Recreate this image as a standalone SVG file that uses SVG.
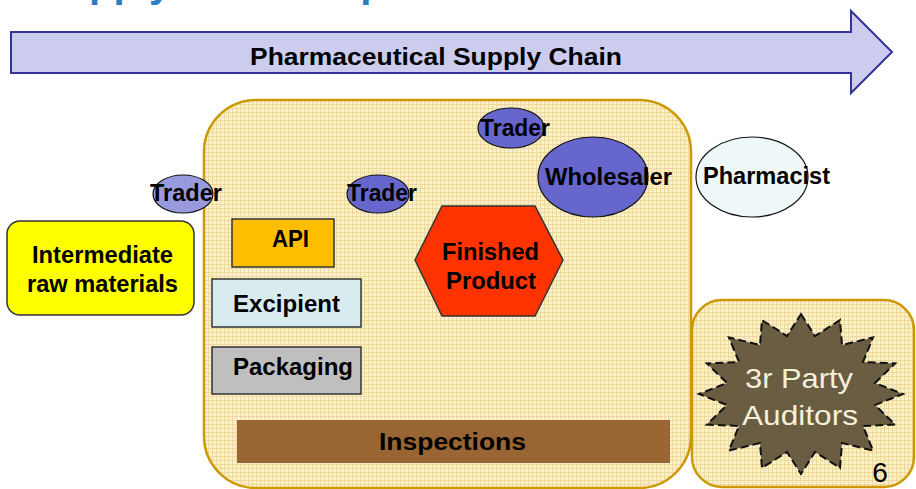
<svg xmlns="http://www.w3.org/2000/svg" width="916" height="489" viewBox="0 0 916 489">
  <defs>
    <pattern id="plaid" width="4" height="4" patternUnits="userSpaceOnUse">
      <rect width="4" height="4" fill="#fbf2d8"/>
      <rect x="0" y="0" width="4" height="1" fill="#efd89e"/>
      <rect x="0" y="0" width="1" height="4" fill="#efd89e"/>
      <rect x="2" y="2" width="1" height="1" fill="#f3e2b4"/>
    </pattern>
  </defs>
  <style>
    .lbl { font-family: "Liberation Sans", Arial, sans-serif; font-weight: bold; font-size: 23px; fill: #000; text-anchor: middle; }
    .light { font-family: "Liberation Sans", Arial, sans-serif; font-size: 28px; fill: #f5f0dc; text-anchor: middle; }
    .box { stroke: #333; stroke-width: 1.5; }
    .oval { stroke: #111; stroke-width: 1.2; }
    .zone { fill: url(#plaid); stroke: #cc9900; stroke-width: 2.5; }
  </style>

  <rect width="916" height="489" fill="#ffffff"/>

  <!-- page heading (only its lower edge shows) -->
  <text x="38" y="-3.5" font-family="Liberation Sans, Arial, sans-serif" font-weight="bold" font-size="40" fill="#2a7dc0">Supply Chain Map</text>

  <!-- supply chain arrow -->
  <g id="chain-arrow">
    <polygon points="11,32 851,32 851,11 892,52 851,93 851,73 11,73" fill="#ccccee" stroke="#333399" stroke-width="2"/>
    <text class="lbl" x="436" y="65" font-size="25" textLength="372" lengthAdjust="spacingAndGlyphs">Pharmaceutical Supply Chain</text>
  </g>

  <!-- regulated areas -->
  <g id="zone-main">
    <rect class="zone" x="204" y="100" width="487" height="388" rx="52" ry="52"/>
  </g>
  <g id="zone-auditors">
    <rect class="zone" x="692" y="300" width="222" height="187" rx="30" ry="30"/>
  </g>

  <g id="intermediate">
    <rect class="box" x="7" y="221" width="187" height="94" rx="13" ry="13" fill="#ffff00"/>
    <text class="lbl" x="102.5" y="263" textLength="141" lengthAdjust="spacingAndGlyphs">Intermediate</text>
    <text class="lbl" x="102.5" y="292" textLength="151" lengthAdjust="spacingAndGlyphs">raw materials</text>
  </g>

  <g id="api">
    <rect class="box" x="232" y="219" width="102" height="48" fill="#ffbf00"/>
    <text class="lbl" x="290.5" y="247" textLength="37" lengthAdjust="spacingAndGlyphs">API</text>
  </g>

  <g id="excipient">
    <rect class="box" x="212" y="279" width="149" height="48" fill="#d8ecf0" stroke="#555"/>
    <text class="lbl" x="286.5" y="312" textLength="107" lengthAdjust="spacingAndGlyphs">Excipient</text>
  </g>

  <g id="packaging">
    <rect class="box" x="212" y="347" width="149" height="47" fill="#bfbfbf" stroke="#222"/>
    <text class="lbl" x="293" y="375" textLength="120" lengthAdjust="spacingAndGlyphs">Packaging</text>
  </g>

  <g id="inspections">
    <rect x="237" y="420" width="433" height="43" fill="#996633"/>
    <text class="lbl" x="452.5" y="450" textLength="147" lengthAdjust="spacingAndGlyphs">Inspections</text>
  </g>

  <g id="finished-product">
    <polygon class="box" points="415,260 442,206 535,206 563,260 535,316 442,316" fill="#ff3300"/>
    <text class="lbl" x="490.5" y="260" textLength="97" lengthAdjust="spacingAndGlyphs">Finished</text>
    <text class="lbl" x="491" y="289" textLength="90" lengthAdjust="spacingAndGlyphs">Product</text>
  </g>

  <g id="trader-left">
    <ellipse class="oval" cx="183" cy="194" rx="30" ry="19" fill="#9999dd"/>
    <text class="lbl" x="186" y="201" textLength="72" lengthAdjust="spacingAndGlyphs">Trader</text>
  </g>

  <g id="trader-mid">
    <ellipse class="oval" cx="378" cy="194" rx="31" ry="19" fill="#6666cc"/>
    <text class="lbl" x="382" y="201" textLength="70" lengthAdjust="spacingAndGlyphs">Trader</text>
  </g>

  <g id="trader-top">
    <ellipse class="oval" cx="511" cy="128" rx="33" ry="20" fill="#6666cc"/>
    <text class="lbl" x="515" y="136" textLength="70" lengthAdjust="spacingAndGlyphs">Trader</text>
  </g>

  <g id="wholesaler">
    <ellipse class="oval" cx="593" cy="177" rx="55" ry="40" fill="#6666cc"/>
    <text class="lbl" x="608.5" y="185" textLength="127" lengthAdjust="spacingAndGlyphs">Wholesaler</text>
  </g>

  <g id="pharmacist">
    <ellipse class="oval" cx="752" cy="177" rx="56" ry="40" fill="#eef8f8"/>
    <text class="lbl" x="766.5" y="184" textLength="127" lengthAdjust="spacingAndGlyphs">Pharmacist</text>
  </g>

  <!-- 16-point seal, dashed outline -->
  <g id="auditors">
    <polygon points="801,314 815,336 840,320.1 842,345 873.1,337.4 863,362 895.2,363.4 875,383 903,394 875,405 895.2,424.6 863,426 873.1,450.6 842,443 840,467.9 815,452 801,474 787,452 762,467.9 760,443 728.9,450.6 739,426 706.8,424.6 727,405 699,394 727,383 706.8,363.4 739,362 728.9,337.4 760,345 762,320.1 787,336" fill="#5a4e35" fill-opacity="0.9" stroke="#111" stroke-width="2" stroke-dasharray="8,4"/>
    <text class="light" x="799" y="388" textLength="108" lengthAdjust="spacingAndGlyphs">3r Party</text>
    <text class="light" x="800" y="425" textLength="116" lengthAdjust="spacingAndGlyphs">Auditors</text>
  </g>

  <text x="880" y="482" font-family="Liberation Sans, Arial, sans-serif" font-size="28" fill="#000" text-anchor="middle">6</text>

  <g id="connectors"/>
</svg>
